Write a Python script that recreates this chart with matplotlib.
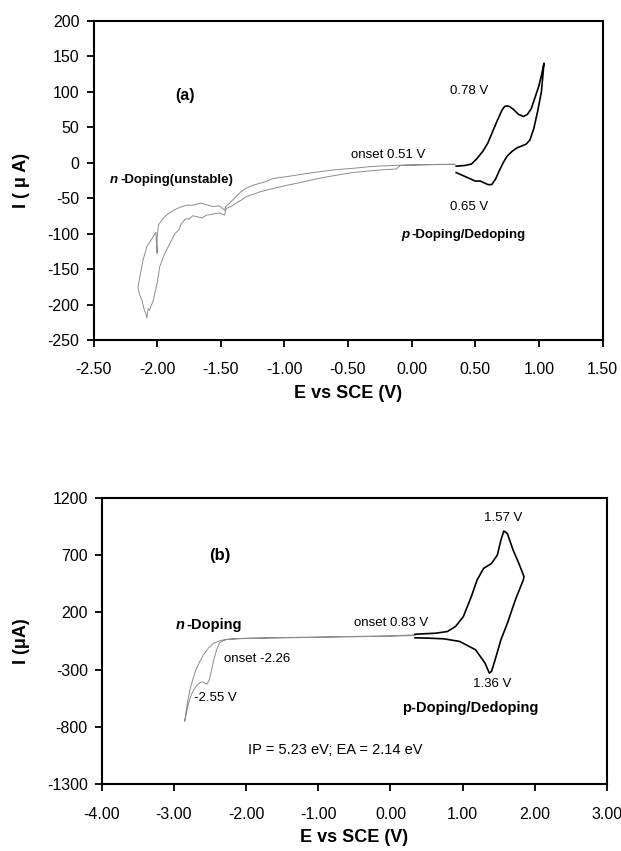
import matplotlib
matplotlib.use("Agg")
from matplotlib import pyplot as plt

# ---- panel (a): p-doping loop (black) and n-doping trace (grey)
a_p_E = [0.35, 0.42, 0.47, 0.51, 0.56, 0.60, 0.63, 0.67, 0.71, 0.73, 0.75, 0.77,
         0.80, 0.84, 0.88, 0.91, 0.94, 0.97, 1.00, 1.02, 1.04,
         1.03, 1.02, 0.99, 0.96, 0.93, 0.90, 0.86, 0.83, 0.79, 0.75, 0.72,
         0.69, 0.66, 0.63, 0.60, 0.54, 0.50, 0.45, 0.40, 0.35]
a_p_I = [-5, -4, -2, 5, 16, 28, 41, 58, 74, 79, 80, 79,
         75, 68, 65, 68, 76, 92, 108, 123, 140,
         120, 100, 72, 48, 32, 26, 23, 21, 16, 9, 0,
         -11, -23, -31, -31, -26, -26, -22, -18, -14]

a_n_E = [0.34, 0.20, 0.00, -0.10, -0.25, -0.35, -0.46, -0.60, -0.72, -0.85, -0.98,
         -1.04, -1.10, -1.15, -1.19, -1.25, -1.30, -1.34, -1.38, -1.43, -1.46,
         -1.47, -1.51, -1.56, -1.60, -1.62, -1.66, -1.70, -1.72, -1.77, -1.82,
         -1.87, -1.92, -1.95, -1.99, -2.00, -2.00, -2.01, -2.04, -2.08, -2.11,
         -2.13, -2.15, -2.14, -2.12, -2.10, -2.09, -2.08,
         -2.07, -2.06, -2.03, -2.00, -1.98, -1.94, -1.90, -1.86, -1.83, -1.81,
         -1.78, -1.77, -1.75, -1.72, -1.69, -1.65, -1.61, -1.55, -1.51, -1.47,
         -1.46, -1.45, -1.41, -1.38, -1.34, -1.30, -1.25, -1.19, -1.10, -0.98,
         -0.85, -0.72, -0.60, -0.46, -0.35, -0.25, -0.12, -0.09, -0.05, 0.10, 0.34]
a_n_I = [-2.3, -2.5, -3.5, -3.8, -4.8, -6, -8, -10, -12.8, -16, -19.8,
         -21, -23, -27, -29, -32, -36, -41, -48, -57, -62,
         -67, -61, -62, -60, -59, -57, -59, -60, -60, -63,
         -67, -73, -78, -88, -106, -128, -98, -107, -118, -137,
         -156, -175, -185, -194, -208, -212, -219,
         -206, -208, -194, -170, -147, -128, -114, -100, -95, -86,
         -80, -79, -80, -75, -76, -78, -74, -72, -71, -74,
         -66, -64, -61, -57, -53, -48, -45, -41, -37, -32,
         -27, -22, -18, -14, -12, -10.4, -9, -4, -3.5, -3, -2.5]

# ---- panel (b)
b_p_E = [0.34, 0.63, 0.79, 0.90, 1.01, 1.12, 1.20, 1.29, 1.40, 1.48, 1.53, 1.57,
         1.62, 1.70, 1.78, 1.85, 1.84, 1.73, 1.62, 1.53, 1.45, 1.40, 1.37, 1.31,
         1.18, 0.96, 0.74, 0.52, 0.34]
b_p_I = [9, 18, 33, 76, 163, 337, 482, 583, 626, 699, 829, 910,
         887, 742, 626, 511, 482, 308, 105, -40, -214, -315, -330, -243,
         -127, -54, -31, -25, -22]

b_n_E = [0.34, 0.00, -1.00, -2.00, -2.23, -2.35, -2.45, -2.52, -2.59, -2.65, -2.70,
         -2.74, -2.78, -2.81, -2.83, -2.85,
         -2.83, -2.80, -2.76, -2.72, -2.67, -2.63, -2.60, -2.57, -2.54, -2.51,
         -2.48, -2.45, -2.41, -2.37, -2.32, -2.26, -2.00, -1.00, 0.00, 0.34]
b_n_I = [4, -5, -15, -25, -34, -45, -70, -110, -170, -240, -310,
         -390, -480, -580, -660, -750,
         -690, -600, -520, -470, -430, -410, -405, -420, -425, -390,
         -310, -220, -130, -70, -45, -35, -28, -18, -8, -3]

a_xticks = [-2.5, -2.0, -1.5, -1.0, -0.5, 0.0, 0.5, 1.0, 1.5]
a_yticks = [-250, -200, -150, -100, -50, 0, 50, 100, 150, 200]
b_xticks = [-4, -3, -2, -1, 0, 1, 2, 3]
b_yticks = [-1300, -800, -300, 200, 700, 1200]

FONT = ['Liberation Sans', 'DejaVu Sans']
plt.rcParams['font.family'] = FONT

fig = plt.figure(figsize=(6.21, 8.51), dpi=100)
ax1 = fig.add_axes([93.5 / 621, 1 - 340 / 851, 509 / 621, 319.3 / 851])
ax2 = fig.add_axes([101.7 / 621, 1 - 784.3 / 851, 505.3 / 621, 286.6 / 851])


def style(ax, xt, yt, ylab, ylx, xly):
    ax.set_xlim(xt[0], xt[-1])
    ax.set_ylim(yt[0], yt[-1])
    ax.set_xticks(xt)
    ax.set_yticks(yt)
    ax.set_xticklabels(["%.2f" % v for v in xt])
    ax.set_yticklabels(["%d" % v for v in yt])
    ax.tick_params(direction='out', length=5, width=1.3, labelsize=11.5, color='black')
    ax.tick_params(axis='x', pad=11)
    ax.tick_params(axis='y', pad=5)
    for s in ax.spines.values():
        s.set_linewidth(1.5)
    ax.set_xlabel("E vs SCE (V)", fontsize=13, fontweight='bold')
    ax.set_ylabel(ylab, fontsize=13, fontweight='bold')
    ax.xaxis.label.set_va('center')
    ax.yaxis.label.set_va('center')
    ax.xaxis.set_label_coords(0.5, xly)
    ax.yaxis.set_label_coords(ylx, 0.5)


def mixed(ax, x, y, first, rest, size, italic=True):
    t = ax.text(x, y, first, fontsize=size, fontweight='bold',
                style='italic' if italic else 'normal', va='center', ha='left')
    ax.annotate(rest, xy=(1, 0.5), xycoords=t, xytext=(1.5, 0),
                textcoords='offset points', fontsize=size, fontweight='bold',
                va='center', ha='left')


# panel (a)
ax1.plot(a_n_E, a_n_I, color='#8c8c8c', lw=0.7)
ax1.plot(a_p_E, a_p_I, color='black', lw=1.2)
style(ax1, a_xticks, a_yticks, "I ( \u03bc A)", -0.1405, -0.166)
ax1.text(-1.86, 95, "(a)", fontsize=11.5, fontweight='bold', va='center')
ax1.text(0.30, 101, "0.78 V", fontsize=9.5, va='center')
ax1.text(-0.475, 11, "onset 0.51 V", fontsize=9.5, va='center')
ax1.text(0.30, -62, "0.65 V", fontsize=9.5, va='center')
mixed(ax1, -2.37, -25, "n", "-Doping(unstable)", 9.5)
mixed(ax1, -0.08, -102, "p", "-Doping/Dedoping", 9.5)

# panel (b)
ax2.plot(b_n_E, b_n_I, color='#8c8c8c', lw=0.7)
ax2.plot(b_p_E, b_p_I, color='black', lw=1.2)
style(ax2, b_xticks, b_yticks, "I (\u03bcA)", -0.158, -0.187)
ax2.text(-2.505, 699, "(b)", fontsize=12, fontweight='bold', va='center')
mixed(ax2, -2.98, 90, "n", "-Doping", 10.5)
ax2.text(-2.30, -208, "onset -2.26", fontsize=9.5, va='center')
ax2.text(-2.725, -547, "-2.55 V", fontsize=9.5, va='center')
ax2.text(-0.50, 105, "onset 0.83 V", fontsize=9.5, va='center')
ax2.text(1.297, 1023, "1.57 V", fontsize=9.5, va='center')
ax2.text(1.148, -425, "1.36 V", fontsize=9.5, va='center')
ax2.text(0.159, -634, "p-Doping/Dedoping", fontsize=10.5, fontweight='bold', va='center')
ax2.text(-1.973, -1005, "IP = 5.23 eV; EA = 2.14 eV", fontsize=10.5, va='center')

fig.savefig("out.png", dpi=100)
